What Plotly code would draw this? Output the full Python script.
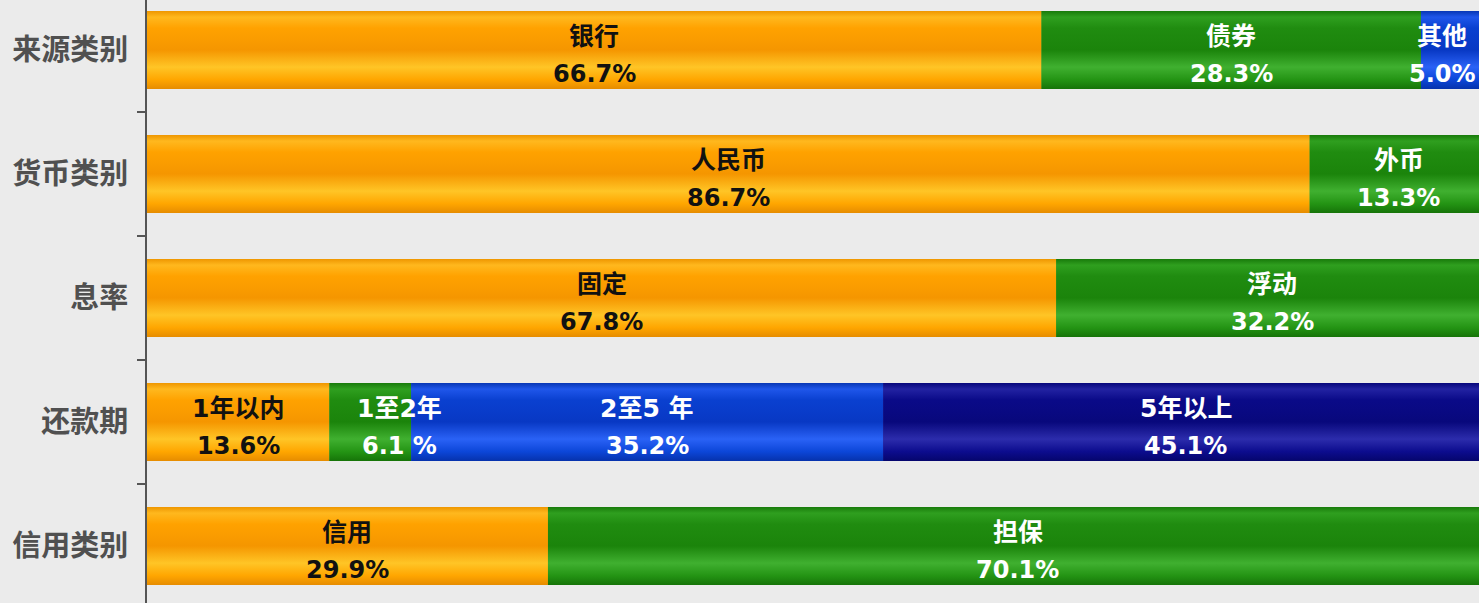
import plotly.graph_objects as go

categories = ["来源类别", "货币类别", "息率", "还款期", "信用类别"]

source_labels = ["银行", "债券", "其他"]
source_values = [66.7, 28.3, 5.0]
currency_labels = ["人民币", "外币"]
currency_values = [86.7, 13.3]
rate_labels = ["固定", "浮动"]
rate_values = [67.8, 32.2]
term_labels = ["1年以内", "1至2年", "2至5 年", "5年以上"]
term_values = [13.6, 6.1, 35.2, 45.1]
credit_labels = ["信用", "担保"]
credit_values = [29.9, 70.1]

rows = [
    (source_labels, source_values),
    (currency_labels, currency_values),
    (rate_labels, rate_values),
    (term_labels, term_values),
    (credit_labels, credit_values),
]

# gradient stops: top edge, highlight, base, middle, lowlight, base, bottom edge
palettes = [
    ["#ee9600", "#ffb81e", "#ffa200", "#f59600", "#ffc526", "#ffa600", "#e68c00"],
    ["#187a0a", "#2f9f1f", "#208c10", "#1b840b", "#40b030", "#249414", "#167408"],
    ["#0736b4", "#1f56ea", "#0a40d0", "#0838c4", "#2a62f6", "#0c46d8", "#0632ac"],
    ["#07077a", "#2222a2", "#0a0a88", "#08087c", "#2c2cac", "#0c0c8e", "#05056c"],
]
stops = [0, 0.08, 0.22, 0.5, 0.72, 0.88, 1]
text_colors = ["#111111", "white", "white", "white"]

bar_w = 0.63
font = "DejaVu Sans, Noto Sans CJK SC"
cjk = "Noto Sans CJK SC"

fig = go.Figure()
annotations = []

for i, (labels, values) in enumerate(rows):
    left = 0
    for j, (lab, val) in enumerate(zip(labels, values)):
        pal = palettes[j]
        fig.add_trace(go.Bar(
            y=[i], x=[val], base=[left], orientation="h", width=bar_w,
            marker=dict(color=pal[2], line=dict(width=0)),
            showlegend=False, hoverinfo="skip",
        ))
        y0, y1 = i - bar_w / 2, i + bar_w / 2
        fig.add_trace(go.Scatter(
            x=[left, left + val, left + val, left, left],
            y=[y0, y0, y1, y1, y0],
            mode="lines", line=dict(width=0), fill="toself",
            fillgradient=dict(type="vertical", start=y0, stop=y1,
                              colorscale=[[s, c] for s, c in zip(stops, pal)]),
            showlegend=False, hoverinfo="skip",
        ))
        pct = f"{val:.1f}%"
        if lab == "1至2年":
            pct = "6.1 %"
        xs = 0
        if lab == "1至2年":
            xs = 29
        if lab == "其他":
            xs = -12
        cx = left + val / 2
        tc = text_colors[j]
        annotations.append(dict(x=cx, y=i, text=f"<b>{lab}</b>", showarrow=False,
                                yshift=13, xshift=xs,
                                font=dict(family=font, size=25, color=tc)))
        annotations.append(dict(x=cx, y=i, text=f"<b>{pct}</b>", showarrow=False,
                                yshift=-24, xshift=xs,
                                font=dict(family=font, size=24, color=tc)))
        left += val

fig.update_layout(
    width=1479, height=603,
    margin=dict(l=147, r=0, t=0, b=0),
    paper_bgcolor="#ebebeb", plot_bgcolor="#ebebeb",
    barmode="overlay",
    annotations=annotations,
    xaxis=dict(range=[0, 99.33], showgrid=False, zeroline=False,
               showticklabels=False, ticks=""),
    yaxis=dict(range=[4.46, -0.403], showgrid=False, zeroline=False,
               tickmode="array", tickvals=list(range(len(categories))),
               ticktext=categories, ticks="", ticklabelstandoff=11,
               tickfont=dict(family=cjk, size=29, color="#505050", weight="bold"),
               showline=True, linecolor="#555555", linewidth=2,
               minor=dict(tickmode="array", tickvals=[0.5, 1.5, 2.5, 3.5],
                          ticks="outside", ticklen=8, tickwidth=2, tickcolor="#555555",
                          showgrid=False)),
)

fig.write_html("out.html", config={"displayModeBar": False},
               post_script="document.body.style.margin='0';document.body.style.overflow='hidden';")
